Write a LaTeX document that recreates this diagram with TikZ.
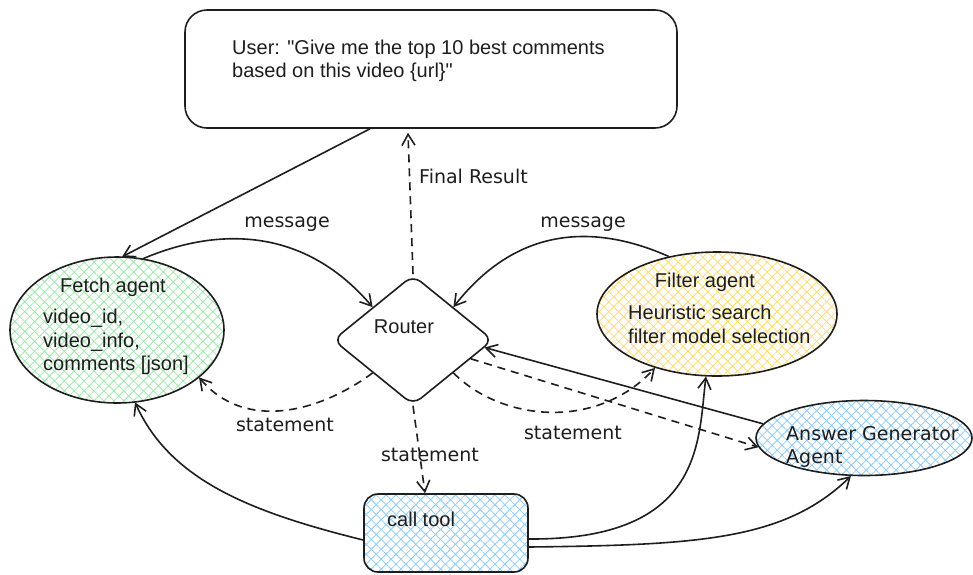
\documentclass[tikz,border=0pt]{standalone}
\usepackage{fontspec}
\setmainfont{Liberation Sans}[Ligatures=TeXOff]
\newfontfamily\handfont{DejaVu Sans}
\usetikzlibrary{shapes.geometric,arrows.meta,patterns.meta,calc}
\definecolor{ink}{HTML}{1E1E1E}
\definecolor{hgreen}{HTML}{9FE8AB}
\definecolor{hyellow}{HTML}{FFDD70}
\definecolor{hblue}{HTML}{8FCBFA}
\begin{document}
\begin{tikzpicture}[x=1pt,y=-1pt,
  every node/.style={text=ink},
  shp/.style={draw=ink,line width=1.6pt,inner sep=0pt},
  hatchg/.style={pattern={Hatch[angle=45,distance=7pt,line width=0.8pt]},pattern color=hgreen},
  hatchy/.style={pattern={Hatch[angle=45,distance=7pt,line width=0.8pt]},pattern color=hyellow},
  hatchb/.style={pattern={Hatch[angle=45,distance=7pt,line width=0.8pt]},pattern color=hblue},
  txt/.style={font=\fontsize{20}{23}\selectfont,inner sep=0pt},
  lbl/.style={font=\handfont\fontsize{19}{22}\selectfont,inner sep=0pt},
  conn/.style={draw=ink,line width=1.6pt,-{Straight Barb[length=11pt,width=13pt,line width=1.6pt]}},
  dconn/.style={conn,dash pattern=on 8pt off 6pt}
]
\fill[white] (0,0) rectangle (973,574);
\useasboundingbox (0,0) rectangle (973,574);

% nodes
\node[shp,rectangle,rounded corners=22pt,minimum width=492pt,minimum height=118pt] (user) at (431,69) {};
\node[shp,hatchg,ellipse,minimum width=214pt,minimum height=146pt] (fetch) at (117,330) {};
\node[shp,diamond,rounded corners=10pt,minimum width=160pt,minimum height=130pt] (router) at (413,340) {};
\node[shp,hatchy,ellipse,minimum width=240pt,minimum height=124pt] (filter) at (717,314) {};
\node[shp,hatchb,ellipse,minimum width=216pt,minimum height=75pt] (answer) at (864,438) {};
\node[shp,hatchb,rectangle,rounded corners=14pt,minimum width=164pt,minimum height=78pt] (calltool) at (446,533) {};

% texts
\node[txt,anchor=base west] (u1) at (232,54) {User: "Give me the top 10 best comments};
\node[txt,anchor=base west] (u2) at (232,77) {based on this video \{url\}"};
\node[txt,anchor=base] (f0) at (113,292) {Fetch agent};
\node[txt,anchor=base west] (f1) at (43,323) {video\_id,};
\node[txt,anchor=base west] (f2) at (43,347) {video\_info,};
\node[txt,anchor=base west] (f3) at (43,370) {comments [json]};
\node[txt,anchor=base] (r0) at (404,333) {Router};
\node[txt,anchor=base] (fi0) at (705,287) {Filter agent};
\node[txt,anchor=base west] (fi1) at (628,319) {Heuristic search};
\node[txt,anchor=base west] (fi2) at (628,343) {filter model selection};
\node[lbl,anchor=base west] (a1) at (786,440) {Answer Generator};
\node[lbl,anchor=base west] (a2) at (786,463) {Agent};
\node[txt,anchor=base west] (c0) at (387,526) {call tool};

% connectors
\draw[conn] ([xshift=-61pt]user.south) -- (fetch.86);
\draw[conn] (fetch.70) .. controls (210,230) and (300,222) .. (router.north west);
\draw[conn] (filter.130) .. controls (600,226) and (520,222) .. (router.north east);
\draw[dconn] (router.north) -- ([xshift=-23pt,yshift=-4pt]user.south);
\draw[dconn] (router.south west) .. controls (320,412) and (245,432) .. (fetch.-30);
\draw[dconn] (router.south) -- ([xshift=-21pt]calltool.north);
\draw[dconn] (router.south east) .. controls (500,420) and (595,432) .. (filter.-139);
\draw[dconn] (router.-18) -- (answer.185);
\draw[conn] (answer.172) -- (router.-6);
\draw[conn] ([yshift=-7pt]calltool.west) .. controls (250,512) and (170,480) .. (fetch.-76);
\draw[conn] ([yshift=-6pt]calltool.east) .. controls (705,540) and (698,440) .. (filter.-100);
\draw[conn] ([yshift=-14pt]calltool.east) .. controls (700,545) and (785,540) .. (answer.-109);

% labels
\node[lbl,fill=white,inner sep=1pt] (m1) at (287,224) {message};
\node[lbl,fill=white,inner sep=1pt] (m2) at (583,224) {message};
\node[lbl,anchor=west] (fr) at (419,176) {Final Result};
\node[lbl] (s1) at (285,425) {statement};
\node[lbl] (s2) at (430,455) {statement};
\node[lbl] (s3) at (573,433) {statement};
\end{tikzpicture}
\end{document}
